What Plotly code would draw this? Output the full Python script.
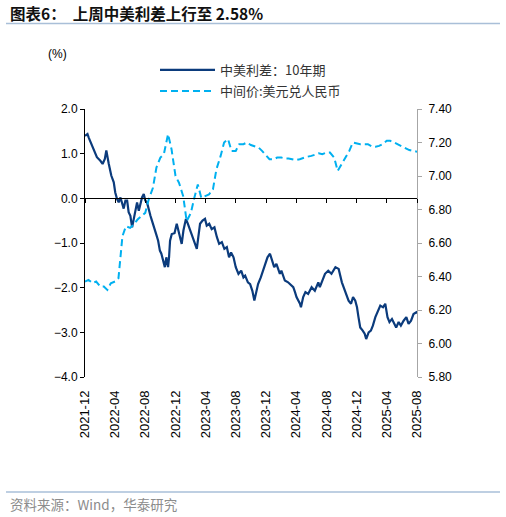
import pandas as pd
import plotly.graph_objects as go

# ---- 10Y China-US spread (%), readings at irregular dates ----
spread_dates = [
    "2021-12-01", "2021-12-11", "2021-12-16", "2021-12-26", "2022-01-05", "2022-01-18",
    "2022-02-01", "2022-02-10", "2022-02-19", "2022-02-25", "2022-03-07", "2022-03-17",
    "2022-03-27", "2022-04-02", "2022-04-09", "2022-04-16", "2022-04-23", "2022-04-29",
    "2022-05-06", "2022-05-13", "2022-05-20", "2022-05-26", "2022-06-02", "2022-06-09",
    "2022-06-16", "2022-06-22", "2022-06-29", "2022-07-06", "2022-07-12", "2022-07-19",
    "2022-07-26", "2022-08-01", "2022-08-08", "2022-08-15", "2022-08-22", "2022-08-28",
    "2022-09-04", "2022-09-14", "2022-09-22", "2022-09-29", "2022-10-05", "2022-10-12",
    "2022-10-19", "2022-10-25", "2022-11-01", "2022-11-05", "2022-11-09", "2022-11-16",
    "2022-11-27", "2022-12-06", "2022-12-15", "2022-12-26", "2023-01-02", "2023-01-12",
    "2023-01-20", "2023-01-25", "2023-02-05", "2023-02-15", "2023-02-25", "2023-03-03",
    "2023-03-10", "2023-03-20", "2023-03-30", "2023-04-06", "2023-04-16", "2023-04-26",
    "2023-05-07", "2023-05-17", "2023-05-26", "2023-06-06", "2023-06-16", "2023-06-26",
    "2023-07-05", "2023-07-13", "2023-07-23", "2023-08-01", "2023-08-12", "2023-08-23",
    "2023-09-01", "2023-09-08", "2023-09-19", "2023-09-28", "2023-10-07", "2023-10-15",
    "2023-10-24", "2023-10-30", "2023-11-10", "2023-11-20", "2023-11-29", "2023-12-07",
    "2023-12-17", "2023-12-26", "2024-01-03", "2024-01-12", "2024-01-26", "2024-02-01",
    "2024-02-15", "2024-02-28", "2024-03-06", "2024-03-20", "2024-03-27", "2024-04-02",
    "2024-04-16", "2024-04-20", "2024-04-29", "2024-05-08", "2024-05-19", "2024-06-02",
    "2024-06-15", "2024-06-29", "2024-07-05", "2024-07-26", "2024-08-08", "2024-08-21",
    "2024-09-06", "2024-09-19", "2024-10-02", "2024-10-16", "2024-10-29", "2024-11-08",
    "2024-11-16", "2024-11-25", "2024-12-02", "2024-12-08", "2024-12-15", "2024-12-25",
    "2025-01-02", "2025-01-08", "2025-01-18", "2025-01-27", "2025-02-04", "2025-02-14",
    "2025-02-25", "2025-03-06", "2025-03-17", "2025-03-26", "2025-04-04", "2025-04-12",
    "2025-04-22", "2025-05-01", "2025-05-09", "2025-05-19", "2025-05-28", "2025-06-08",
    "2025-06-19", "2025-06-28", "2025-07-08", "2025-07-18", "2025-07-29", "2025-08-01",
]
spread_10y = [
    1.40, 1.44, 1.36, 1.23, 1.07, 0.92,
    0.84, 0.77, 0.88, 1.07, 0.77, 0.51,
    0.36, 0.13, -0.01, -0.09, 0.02, -0.13,
    -0.23, -0.05, -0.05, -0.31, -0.39, -0.65,
    -0.46, -0.31, -0.09, -0.28, -0.13, 0.02,
    0.10, -0.05, -0.09, -0.28, -0.39, -0.50,
    -0.61, -0.80, -0.95, -1.17, -1.24, -1.39,
    -1.54, -1.32, -1.54, -1.32, -0.95, -0.80,
    -0.78, -0.57, -0.80, -1.02, -0.72, -0.46,
    -0.57, -0.65, -0.80, -0.95, -1.13, -0.87,
    -0.57, -0.50, -0.46, -0.61, -0.57, -0.69,
    -0.65, -0.87, -1.02, -0.98, -1.13, -1.09,
    -1.32, -1.21, -1.32, -1.54, -1.69, -1.62,
    -1.77, -1.73, -1.88, -1.92, -2.07, -2.29,
    -2.07, -1.92, -1.77, -1.62, -1.47, -1.32,
    -1.24, -1.39, -1.54, -1.47, -1.69, -1.62,
    -1.84, -1.88, -1.92, -1.99, -2.10, -2.21,
    -2.36, -2.44, -2.21, -2.10, -2.14, -1.99,
    -2.07, -1.88, -1.99, -1.69, -1.62, -1.69,
    -1.54, -1.58, -1.88, -2.07, -2.29, -2.36,
    -2.21, -2.29, -2.44, -2.66, -2.89, -2.96,
    -3.03, -3.15, -3.00, -2.96, -2.85, -2.66,
    -2.51, -2.40, -2.44, -2.36, -2.66, -2.77,
    -2.70, -2.81, -2.89, -2.77, -2.85, -2.74,
    -2.66, -2.81, -2.74, -2.59, -2.55, -2.58,
]

# ---- USD/CNY central parity, semi-monthly readings ----
fx_dates = pd.date_range("2021-12-01", "2025-08-01", freq="SMS")
usdcny_mid = [
    6.37, 6.38,   # 2021-12
    6.36, 6.37,
    6.34, 6.34,
    6.32, 6.36,
    6.37, 6.39,
    6.64, 6.70,
    6.69, 6.71,
    6.74, 6.76,
    6.78, 6.86,
    6.93, 7.05,
    7.11, 7.13,
    7.25, 7.16,
    7.00, 6.96,   # 2022-12
    6.88, 6.73,   # 2023-01
    6.78, 6.87,
    6.95, 6.87,
    6.88, 6.89,
    6.92, 7.04,
    7.12, 7.20,
    7.22, 7.15,
    7.15, 7.19,
    7.19, 7.20,
    7.185, 7.18,
    7.17, 7.15,
    7.12, 7.10,   # 2023-12
    7.10, 7.11,   # 2024-01
    7.11, 7.105,
    7.105, 7.10,
    7.095, 7.10,
    7.11, 7.115,
    7.12, 7.125,
    7.135, 7.13,
    7.14, 7.14,
    7.11, 7.03,
    7.07, 7.11,
    7.15, 7.20,
    7.195, 7.19,  # 2024-12
    7.19, 7.19,   # 2025-01
    7.175, 7.175,
    7.18, 7.19,
    7.21, 7.21,
    7.20, 7.19,
    7.175, 7.165,
    7.155, 7.15,
    7.145,        # 2025-08
]

series_names = ["中美利差：10年期", "中间价:美元兑人民币"]
title_text = "<b>图表6：  上周中美利差上行至 2.58%</b>"
source_text = "资料来源：Wind，华泰研究"

NAVY = "#0b3b7c"
CYAN = "#00b0f0"
FONT = "Liberation Sans, Noto Sans CJK SC, sans-serif"
CJK = "Noto Sans CJK SC, sans-serif"

W, H = 506, 517
L, R, T, B = 85, 417, 109, 377  # plot area edges in pixels

fig = go.Figure()
fig.add_trace(go.Scatter(
    x=pd.to_datetime(spread_dates), y=spread_10y, name=series_names[0], mode="lines",
    line=dict(color=NAVY, width=2.2), xaxis="x", yaxis="y", legend="legend",
))
fig.add_trace(go.Scatter(
    x=fx_dates, y=usdcny_mid, name=series_names[1], mode="lines",
    line=dict(color=CYAN, width=2, dash="7px,4px"), xaxis="x2", yaxis="y2", legend="legend2",
))

x_range = ["2021-12-01", "2025-08-01"]
fig.update_layout(
    width=W, height=H,
    margin=dict(l=L, r=W - R, t=T, b=H - B, autoexpand=False),
    paper_bgcolor="white", plot_bgcolor="white",
    font=dict(family=FONT, size=12, color="#000000"),
    xaxis=dict(
        type="date", range=x_range, tick0="2021-12-01", dtick="M4", tickformat="%Y-%m",
        tickangle=-90, showline=False, ticks="", showgrid=False, zeroline=False,
        tickfont=dict(size=13, family=FONT), ticklabelstandoff=10, automargin=False,
    ),
    xaxis2=dict(
        type="date", matches="x", overlaying="x", anchor="free", position=4 / 6, side="bottom",
        tick0="2021-12-01", dtick="M4", showticklabels=False,
        showline=True, linecolor="#000000", linewidth=1.3,
        ticks="outside", ticklen=4, tickcolor="#000000", tickwidth=1,
        showgrid=False, zeroline=False, automargin=False,
    ),
    yaxis=dict(
        range=[-4, 2], dtick=1, tickformat=".1f", showgrid=False, zeroline=False,
        showline=True, linecolor="#000000", linewidth=1,
        ticks="outside", ticklen=4, tickcolor="#000000",
        tickfont=dict(size=12, family=FONT), automargin=False,
    ),
    yaxis2=dict(
        range=[5.8, 7.4], dtick=0.2, tickformat=".2f", overlaying="y", side="right",
        anchor="x2", showgrid=False, zeroline=False,
        showline=True, linecolor="#a6a6a6", linewidth=1,
        ticks="outside", ticklen=4, tickcolor="#a6a6a6", ticklabelstandoff=4,
        tickfont=dict(size=12, family=FONT), automargin=False,
    ),
    legend=dict(
        xref="container", yref="container",
        x=155 / W, y=1 - 70 / H, xanchor="left", yanchor="middle",
        font=dict(size=13, family=CJK, color="#333333"), itemwidth=55,
        bgcolor="rgba(0,0,0,0)",
    ),
    legend2=dict(
        xref="container", yref="container",
        x=155 / W, y=1 - 91 / H, xanchor="left", yanchor="middle",
        font=dict(size=13, family=CJK, color="#333333"), itemwidth=55,
        bgcolor="rgba(0,0,0,0)",
    ),
    showlegend=True,
)

def px_x(px):
    return (px - L) / (R - L)

def px_y(py):
    return (B - py) / (B - T)

LINE_COLOR = "#a9bfd8"
for py in (23.5, 492):
    fig.add_shape(type="line", xref="paper", yref="paper",
                  x0=px_x(6), x1=px_x(500), y0=px_y(py), y1=px_y(py),
                  line=dict(color=LINE_COLOR, width=1.5))

fig.add_annotation(text=title_text, xref="paper", yref="paper",
                   x=px_x(8), y=px_y(13), xanchor="left", yanchor="middle",
                   showarrow=False, font=dict(size=15.5, family=CJK, color="#111111"))
fig.add_annotation(text="(%)", xref="paper", yref="paper",
                   x=px_x(57), y=px_y(54), xanchor="center", yanchor="middle",
                   showarrow=False, font=dict(size=12, family=FONT, color="#000000"))
fig.add_annotation(text=source_text, xref="paper", yref="paper",
                   x=px_x(8), y=px_y(504), xanchor="left", yanchor="middle",
                   showarrow=False, font=dict(size=13.5, family=CJK, color="#8c8c8c"))

fig.write_html(
    "out.html",
    config={"displayModeBar": False},
    post_script="document.body.style.margin='0';document.body.style.overflow='hidden';",
)
